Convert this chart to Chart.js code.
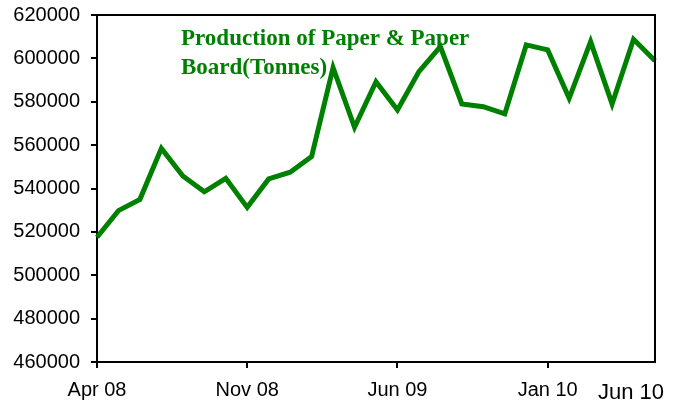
<!DOCTYPE html>
<html>
<head>
<meta charset="utf-8">
<script src="https://cdn.jsdelivr.net/npm/chart.js@4/dist/chart.umd.min.js"></script>
<style>
  html, body { margin: 0; padding: 0; background: #fff; }
  #wrap { width: 678px; height: 406px; position: relative; }
</style>
</head>
<body>
<div id="wrap"><canvas id="chart"></canvas></div>
<script>
// monthly labels Apr 08 .. Jun 10
const months = [
    'Apr 08', 'May 08', 'Jun 08', 'Jul 08', 'Aug 08', 'Sep 08', 'Oct 08', 'Nov 08', 'Dec 08',
    'Jan 09', 'Feb 09', 'Mar 09', 'Apr 09', 'May 09', 'Jun 09', 'Jul 09', 'Aug 09', 'Sep 09',
    'Oct 09', 'Nov 09', 'Dec 09', 'Jan 10', 'Feb 10', 'Mar 10', 'Apr 10', 'May 10', 'Jun 10'
];
const shownLabels = ['Apr 08', 'Nov 08', 'Jun 09', 'Jan 10'];
const lastLabel = 'Jun 10';

const production = [
    517500, 529800, 535000, 558500, 545800, 538500, 544700, 531300, 544400,
    547500, 554700, 595700, 568200, 589200, 576200, 593900, 605400, 579000,
    577700, 574400, 606200, 603900, 581600, 607700, 579000, 608800, 598900
];

const titleLines = ['Production of Paper & Paper', 'Board(Tonnes)'];

const green = '#008000';

// frame on top/right, inside title, big last label
const extras = {
    id: 'extras',
    afterDraw(chart) {
        const { ctx, chartArea: a } = chart;
        ctx.save();
        ctx.strokeStyle = '#000';
        ctx.lineWidth = 2;
        ctx.beginPath();
        ctx.moveTo(a.left, a.top);
        ctx.lineTo(a.right, a.top);
        ctx.lineTo(a.right, a.bottom);
        ctx.stroke();

        ctx.fillStyle = green;
        ctx.font = 'bold 23px "Liberation Serif", "Times New Roman", serif';
        ctx.textAlign = 'left';
        ctx.textBaseline = 'alphabetic';
        ctx.fillText(titleLines[0], 181, 45);
        ctx.fillText(titleLines[1], 181, 74);

        ctx.fillStyle = '#000';
        ctx.font = '22px "Liberation Sans", Arial, sans-serif';
        ctx.textAlign = 'right';
        ctx.textBaseline = 'middle';
        ctx.fillText(lastLabel, 664, 393);
        ctx.restore();
    }
};

new Chart(document.getElementById('chart'), {
    type: 'line',
    data: {
        labels: months,
        datasets: [{
            data: production,
            borderColor: green,
            borderWidth: 5,
            pointRadius: 0,
            tension: 0,
            fill: false
        }]
    },
    options: {
        responsive: true,
        maintainAspectRatio: false,
        animation: false,
        layout: { padding: { top: 15, right: 23, left: 0, bottom: 0 } },
        plugins: {
            legend: { display: false },
            tooltip: { enabled: false }
        },
        scales: {
            x: {
                offset: false,
                border: { display: true, color: '#000', width: 2 },
                grid: {
                    drawOnChartArea: false,
                    tickLength: 6,
                    lineWidth: 2,
                    color: (c) => shownLabels.includes(months[c.index]) ? '#000' : 'rgba(0,0,0,0)'
                },
                ticks: {
                    autoSkip: false,
                    maxRotation: 0,
                    padding: 10,
                    color: '#000',
                    font: { family: '"Liberation Sans", Arial, sans-serif', size: 20 },
                    callback: (v, i) => shownLabels.includes(months[i]) ? months[i] : ''
                },
                afterFit: (s) => { s.height = 44; s.paddingLeft = 0; s.paddingRight = 0; }
            },
            y: {
                min: 460000,
                max: 620000,
                border: { display: true, color: '#000', width: 2 },
                grid: { drawOnChartArea: false, tickLength: 6, lineWidth: 2, color: '#000' },
                ticks: {
                    stepSize: 20000,
                    padding: 11,
                    color: '#000',
                    font: { family: '"Liberation Sans", Arial, sans-serif', size: 20 },
                    callback: (v) => String(v)
                },
                afterFit: (s) => { s.width = 97; s.paddingTop = 0; s.paddingBottom = 0; }
            }
        }
    },
    plugins: [extras]
});
</script>
</body>
</html>
